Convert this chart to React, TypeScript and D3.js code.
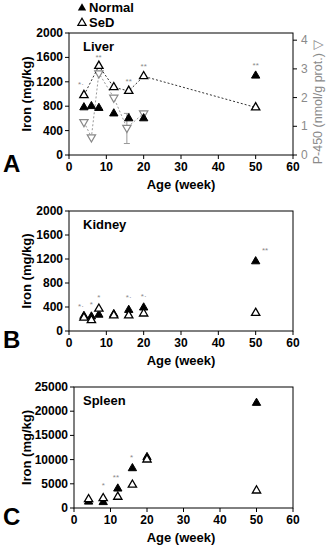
import React from "react";
import * as d3 from "d3";

const xTicks = [0, 10, 20, 30, 40, 50, 60];

const liverNormalX = [4, 6, 8, 12, 16, 20, 50];
const liverNormal = [780, 800, 770, 680, 600, 600, 1300];
const liverSeDX = [4, 8, 12, 16, 20, 50];
const liverSeD = [980, 1460, 1110, 1050, 1290, 780];
const p450X = [4, 6, 8, 12, 15.5, 20];
const p450 = [1.15, 0.62, 2.85, 2.0, 0.95, 1.45];
const p450ErrLo = [0, 0, 0, 0, 0.4, 0];
const p450ErrHi = [0, 0, 0, 0, 1.45, 0];
const liverStars = [
  { x: 3.2, y: 1110, t: "*·" },
  { x: 7.9, y: 1560, t: "**" },
  { x: 16, y: 1170, t: "**" },
  { x: 20, y: 1410, t: "**" },
  { x: 50, y: 1430, t: "**" },
];

const kidneyNormalX = [4, 6, 8, 12, 16, 20, 50];
const kidneyNormal = [250, 240, 270, 280, 350, 390, 1160];
const kidneySeDX = [4, 6, 8, 12, 16, 20, 50];
const kidneySeD = [220, 180, 370, 260, 260, 290, 300];
const kidneyStars = [
  { x: 3.2, y: 370, t: "*·" },
  { x: 6, y: 400, t: "*" },
  { x: 8, y: 510, t: "*" },
  { x: 16, y: 510, t: "*·" },
  { x: 20, y: 540, t: "*·" },
  { x: 52.5, y: 1300, t: "**" },
];

const spleenNormalX = [4, 8, 12, 16, 20, 50];
const spleenNormal = [1300, 1200, 4000, 8200, 10500, 21700];
const spleenSeDX = [4, 8, 12, 16, 20, 50];
const spleenSeD = [1800, 2000, 2300, 4800, 10000, 3600];
const spleenStars = [
  { x: 8, y: 4100, t: "*" },
  { x: 11.5, y: 5800, t: "**" },
  { x: 15.8, y: 9900, t: "*" },
];

const FONT = "'Liberation Sans', Arial, sans-serif";
const GREY = "#8a8a8a";
const MS = 30;

const tri = (size: number) => d3.symbol().type(d3.symbolTriangle).size(size)() as string;

type PanelProps = {
  left: number;
  right: number;
  top: number;
  bottom: number;
  yMax: number;
  yTicks: number[];
  title: string;
  letter: string;
  normalX: number[];
  normal: number[];
  sedX: number[];
  sed: number[];
  sedLine?: boolean;
  stars: { x: number; y: number; t: string }[];
  children?: (x: d3.ScaleLinear<number, number>) => React.ReactNode;
};

function Panel(p: PanelProps) {
  const x = d3.scaleLinear().domain([0, 60]).range([p.left, p.right]);
  const y = d3.scaleLinear().domain([0, p.yMax]).range([p.bottom, p.top]);
  const path = tri(MS);
  const line = d3
    .line<number>()
    .x((_, i) => x(p.sedX[i]))
    .y((d) => y(d));
  return (
    <g>
      <rect x={p.left} y={p.top} width={p.right - p.left} height={p.bottom - p.top} fill="none" stroke="#000" strokeWidth={1} />
      {xTicks.map((t) => (
        <g key={t}>
          <line x1={x(t)} x2={x(t)} y1={p.bottom} y2={p.bottom + 4} stroke="#000" />
          <text x={x(t)} y={p.bottom + 16} textAnchor="middle" fontSize={12} fontWeight="bold" fontFamily={FONT}>
            {t}
          </text>
        </g>
      ))}
      {p.yTicks.map((t) => (
        <g key={t}>
          <line x1={p.left - 4} x2={p.left} y1={y(t)} y2={y(t)} stroke="#000" />
          <text x={p.left - 6} y={y(t) + 4} textAnchor="end" fontSize={12} fontWeight="bold" fontFamily={FONT}>
            {t}
          </text>
        </g>
      ))}
      <text x={181} y={p.bottom + 34} textAnchor="middle" fontSize={13} fontWeight="bold" fontFamily={FONT}>
        Age (week)
      </text>
      <text
        transform={`translate(31,${(p.top + p.bottom) / 2}) rotate(-90)`}
        textAnchor="middle"
        fontSize={13}
        fontWeight="bold"
        fontFamily={FONT}
      >
        Iron (mg/kg)
      </text>
      <text x={83} y={p.top + 18} fontSize={13} fontWeight="bold" fontFamily={FONT}>
        {p.title}
      </text>
      <text x={3} y={p.bottom + 17} fontSize={24} fontWeight="bold" fontFamily={FONT}>
        {p.letter}
      </text>
      {p.children && p.children(x)}
      {p.sedLine && (
        <path d={line(p.sed) as string} fill="none" stroke="#333" strokeWidth={1} strokeDasharray="2,2" />
      )}
      {p.normal.map((v, i) => (
        <path key={"n" + i} d={path} transform={`translate(${x(p.normalX[i])},${y(v)})`} fill="#000" stroke="#000" />
      ))}
      {p.sed.map((v, i) => (
        <path
          key={"s" + i}
          d={path}
          transform={`translate(${x(p.sedX[i])},${y(v)})`}
          fill="#fff"
          stroke="#000"
          strokeWidth={1.3}
        />
      ))}
      {p.stars.map((s, i) => (
        <text key={"st" + i} x={x(s.x)} y={y(s.y)} textAnchor="middle" fontSize={8} fill={GREY} fontFamily={FONT}>
          {s.t}
        </text>
      ))}
    </g>
  );
}

export default function App() {
  const aTop = 33,
    aBottom = 155;
  const yR = d3.scaleLinear().domain([0, 4.25]).range([aBottom, aTop]);
  const rTicks = [0, 1, 2, 3, 4];
  const downTri = tri(MS);
  return (
    <svg width={332} height={550} style={{ display: "block", position: "absolute", left: 0, top: 0 }}>
      <rect width={332} height={550} fill="#fff" />
      <path d={tri(MS)} transform="translate(82,8)" fill="#000" />
      <text x={89} y={12} fontSize={13} fontWeight="bold" fontFamily={FONT}>
        Normal
      </text>
      <path d={tri(MS)} transform="translate(82,23)" fill="#fff" stroke="#000" strokeWidth={1.2} />
      <text x={89} y={27} fontSize={13} fontWeight="bold" fontFamily={FONT}>
        SeD
      </text>

      <Panel
        left={69}
        right={293}
        top={aTop}
        bottom={aBottom}
        yMax={2000}
        yTicks={[0, 400, 800, 1200, 1600, 2000]}
        title="Liver"
        letter="A"
        normalX={liverNormalX}
        normal={liverNormal}
        sedX={liverSeDX}
        sed={liverSeD}
        sedLine
        stars={liverStars}
      >
        {(x) => {
          const ln = d3
            .line<number>()
            .x((_, i) => x(p450X[i]))
            .y((d) => yR(d));
          return (
            <g>
              {rTicks.map((t) => (
                <g key={t}>
                  <line x1={293} x2={297} y1={yR(t)} y2={yR(t)} stroke="#000" />
                  <text x={301} y={yR(t) + 4} fontSize={12} fill={GREY} fontFamily={FONT}>
                    {t}
                  </text>
                </g>
              ))}
              <text
                transform={`translate(322,${(aTop + aBottom) / 2 + 8}) rotate(-90)`}
                textAnchor="middle"
                fontSize={12.5}
                fill={GREY}
                fontFamily={FONT}
              >
                P-450 (nmol/g prot.) ▽
              </text>
              <path d={ln(p450) as string} fill="none" stroke="#999" strokeWidth={1} strokeDasharray="2,2" />
              {p450.map((v, i) =>
                p450ErrHi[i] > 0 ? (
                  <g key={"e" + i}>
                    <line x1={x(p450X[i])} x2={x(p450X[i])} y1={yR(p450ErrLo[i])} y2={yR(p450ErrHi[i])} stroke="#999" />
                    <line x1={x(p450X[i]) - 3} x2={x(p450X[i]) + 3} y1={yR(p450ErrLo[i])} y2={yR(p450ErrLo[i])} stroke="#999" />
                    <line x1={x(p450X[i]) - 3} x2={x(p450X[i]) + 3} y1={yR(p450ErrHi[i])} y2={yR(p450ErrHi[i])} stroke="#999" />
                  </g>
                ) : null
              )}
              {p450.map((v, i) => (
                <path
                  key={"p" + i}
                  d={downTri}
                  transform={`translate(${x(p450X[i])},${yR(v)}) rotate(180)`}
                  fill="#fff"
                  stroke="#888"
                  strokeWidth={1.2}
                />
              ))}
            </g>
          );
        }}
      </Panel>

      <Panel
        left={69}
        right={293}
        top={211}
        bottom={331}
        yMax={2000}
        yTicks={[0, 400, 800, 1200, 1600, 2000]}
        title="Kidney"
        letter="B"
        normalX={kidneyNormalX}
        normal={kidneyNormal}
        sedX={kidneySeDX}
        sed={kidneySeD}
        stars={kidneyStars}
      />

      <Panel
        left={74}
        right={293}
        top={387}
        bottom={508}
        yMax={25000}
        yTicks={[0, 5000, 10000, 15000, 20000, 25000]}
        title="Spleen"
        letter="C"
        normalX={spleenNormalX}
        normal={spleenNormal}
        sedX={spleenSeDX}
        sed={spleenSeD}
        stars={spleenStars}
      />
    </svg>
  );
}
